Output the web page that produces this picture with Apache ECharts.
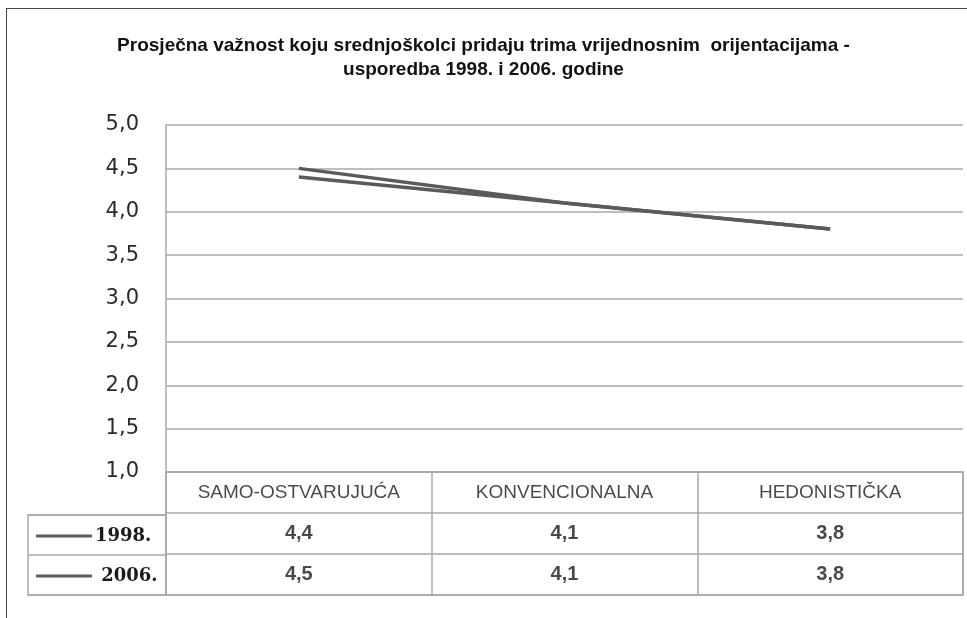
<!DOCTYPE html>
<html>
<head>
<meta charset="utf-8">
<script src="https://cdn.jsdelivr.net/npm/echarts@6/dist/echarts.min.js"></script>
<style>
  html, body { margin: 0; padding: 0; background: #fff; }
  #chart { width: 967px; height: 618px; position: absolute; left: 0; top: 0; }
  #frame { position: absolute; left: 6px; top: 8px; width: 980px; height: 640px;
           border-left: 1.5px solid #444; border-top: 1.5px solid #444; pointer-events: none; }
</style>
</head>
<body>
<div id="chart"></div>
<div id="frame"></div>
<script>
// ---- data ----
const titleText = 'Prosječna važnost koju srednjoškolci pridaju trima vrijednosnim  orijentacijama -\nusporedba 1998. i 2006. godine';
const categories = ['SAMO-OSTVARUJUĆA', 'KONVENCIONALNA', 'HEDONISTIČKA'];
const seriesNames = ['1998.', '2006.'];
const values1998 = [4.4, 4.1, 3.8];
const values2006 = [4.5, 4.1, 3.8];
const yMin = 1, yMax = 5, yStep = 0.5;

const fmt = v => v.toFixed(1).replace('.', ',');
const allValues = [values1998, values2006];

// table cells built from the arrays
const headerCells = categories.map((c, i) => [i, 0, c]);
const valueCells = [];
allValues.forEach((arr, r) => arr.forEach((v, i) => valueCells.push([i, r + 1, fmt(v)])));

const gridColor = '#a8a8a8';
const lineColor = '#5a5a5a';

const legendCommon = {
  left: 36, orient: 'vertical', padding: 0, icon: 'rect',
  itemWidth: 56, itemHeight: 3, itemGap: 0,
  textStyle: { fontFamily: 'DejaVu Serif', fontWeight: 'bold', fontSize: 18, color: '#1a1a1a',
               lineHeight: 20, padding: [0, 0, 0, -2] }
};

const chart = echarts.init(document.getElementById('chart'), null, { renderer: 'canvas' });
chart.setOption({
  backgroundColor: '#fff',
  animation: false,
  title: {
    text: titleText,
    left: 'center',
    top: 29,
    textStyle: { fontFamily: 'Liberation Sans', fontWeight: 'bold', fontSize: 19, color: '#111', lineHeight: 24 }
  },
  legend: [
    Object.assign({}, legendCommon, { data: [seriesNames[0]], top: 526 }),
    Object.assign({}, legendCommon, { data: [seriesNames[1]], top: 566, formatter: n => ' ' + n })
  ],
  grid: [
    { left: 166, right: 4, top: 125, bottom: 146, show: false },
    { left: 166, right: 4, top: 472, bottom: 23, show: true, borderColor: gridColor, borderWidth: 1.5, backgroundColor: 'transparent' },
    { left: 28, width: 138, top: 515, bottom: 23, show: true, borderColor: gridColor, borderWidth: 1.5, backgroundColor: 'transparent' }
  ],
  xAxis: [
    { type: 'category', gridIndex: 0, data: categories, boundaryGap: true,
      axisLine: { show: false }, axisTick: { show: false }, axisLabel: { show: false }, splitLine: { show: false } },
    { type: 'category', gridIndex: 1, data: categories, boundaryGap: true,
      axisLine: { show: false }, axisTick: { show: false }, axisLabel: { show: false },
      splitLine: { show: true, lineStyle: { color: gridColor, width: 1.5 } } },
    { type: 'value', gridIndex: 2, min: 0, max: 1, show: false }
  ],
  yAxis: [
    { type: 'value', gridIndex: 0, min: yMin, max: yMax, interval: yStep,
      axisLine: { show: true, lineStyle: { color: gridColor, width: 1.5 } },
      axisTick: { show: false },
      axisLabel: { formatter: v => fmt(v), margin: 27, fontFamily: 'DejaVu Sans', fontSize: 21, color: '#2a2a2a' },
      splitLine: { show: true, lineStyle: { color: gridColor, width: 1.5 } } },
    { type: 'category', gridIndex: 1, data: ['', seriesNames[0], seriesNames[1]], inverse: true, boundaryGap: true,
      axisLine: { show: false }, axisTick: { show: false }, axisLabel: { show: false },
      splitLine: { show: true, lineStyle: { color: gridColor, width: 1.5 } } },
    { type: 'category', gridIndex: 2, data: seriesNames, inverse: true, boundaryGap: true,
      axisLine: { show: false }, axisTick: { show: false }, axisLabel: { show: false },
      splitLine: { show: true, lineStyle: { color: gridColor, width: 1.5 } } }
  ],
  series: [
    { name: seriesNames[0], type: 'line', xAxisIndex: 0, yAxisIndex: 0, data: values1998,
      symbol: 'none', lineStyle: { color: lineColor, width: 3.5 }, itemStyle: { color: lineColor } },
    { name: seriesNames[1], type: 'line', xAxisIndex: 0, yAxisIndex: 0, data: values2006,
      symbol: 'none', lineStyle: { color: lineColor, width: 3.5 }, itemStyle: { color: lineColor } },
    { type: 'scatter', xAxisIndex: 1, yAxisIndex: 1, data: headerCells, symbolSize: 0, silent: true,
      label: { show: true, position: 'inside', formatter: p => p.value[2],
               fontFamily: 'Liberation Sans', fontSize: 19, color: '#1a1a1a' } },
    { type: 'scatter', xAxisIndex: 1, yAxisIndex: 1, data: valueCells, symbolSize: 0, silent: true,
      label: { show: true, position: 'inside', formatter: p => p.value[2],
               fontFamily: 'Liberation Sans', fontWeight: 'bold', fontSize: 20, color: '#1a1a1a' } }
  ]
});
</script>
</body>
</html>
